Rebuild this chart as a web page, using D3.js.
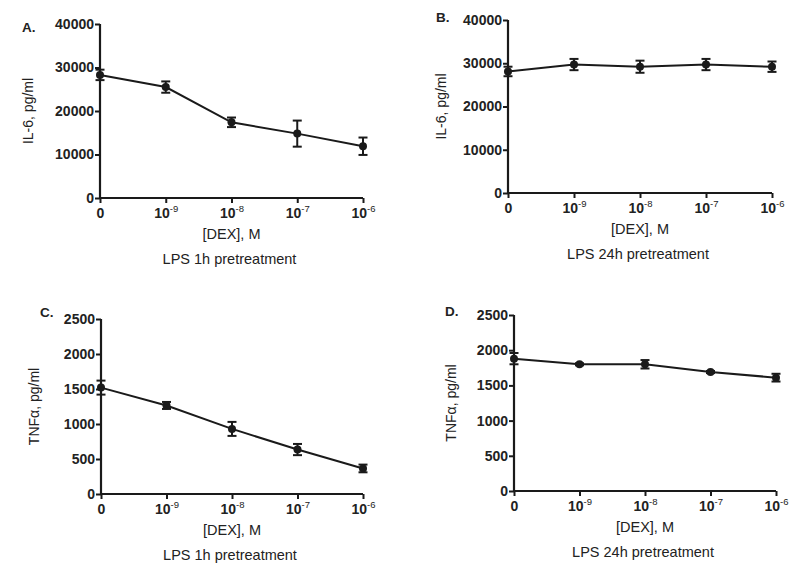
<!DOCTYPE html>
<html><head><meta charset="utf-8">
<script src="https://cdn.jsdelivr.net/npm/d3@7"></script>
<style>body{margin:0;background:#fff}svg{display:block}</style>
</head><body>
<svg id="c" width="800" height="578"></svg>
<script>
const categories = ["0","1e-9","1e-8","1e-7","1e-6"];
const tickBase = ["0","10","10","10","10"];
const tickExp  = ["","-9","-8","-7","-6"];

const il6_1h     = [28300, 25500, 17400, 14800, 11900];
const il6_1h_err = [1200, 1300, 1100, 3000, 2000];
const il6_24h     = [28100, 29700, 29200, 29700, 29200];
const il6_24h_err = [1100, 1300, 1400, 1300, 1200];
const tnf_1h     = [1520, 1265, 930, 635, 365];
const tnf_1h_err = [100, 50, 100, 80, 55];
const tnf_24h     = [1880, 1800, 1800, 1690, 1610];
const tnf_24h_err = [80, 15, 60, 15, 55];

const il6Ticks = [0, 10000, 20000, 30000, 40000];
const tnfTicks = [0, 500, 1000, 1500, 2000, 2500];

const panels = [
  {id:"A.", values:il6_1h, errs:il6_1h_err, ticks:il6Ticks, max:40000, ylab:"IL-6, pg/ml", sub:"LPS 1h pretreatment",
   box:{l:100,r:363,t:24,b:198}, letter:[22,32], ylabX:28},
  {id:"B.", values:il6_24h, errs:il6_24h_err, ticks:il6Ticks, max:40000, ylab:"IL-6, pg/ml", sub:"LPS 24h pretreatment",
   box:{l:508,r:772,t:20,b:193}, letter:[436,22], ylabX:441},
  {id:"C.", values:tnf_1h, errs:tnf_1h_err, ticks:tnfTicks, max:2500, ylab:"TNFα, pg/ml", sub:"LPS 1h pretreatment",
   box:{l:101,r:363,t:319,b:494}, letter:[40,317], ylabX:34},
  {id:"D.", values:tnf_24h, errs:tnf_24h_err, ticks:tnfTicks, max:2500, ylab:"TNFα, pg/ml", sub:"LPS 24h pretreatment",
   box:{l:514,r:776,t:315,b:491}, letter:[445,316], ylabX:451}
];

const svg = d3.select("#c");
const FONT = "'Liberation Sans', Arial, Helvetica, sans-serif";
const INK = "#1a1a1a";

panels.forEach(p => {
  const B = p.box;
  const x = d3.scalePoint().domain(categories).range([B.l, B.r]);
  const y = d3.scaleLinear().domain([0, p.max]).range([B.b, B.t]);
  const g = svg.append("g");

  // y axis
  const ya = g.append("g").attr("transform", `translate(${B.l},0)`)
    .call(d3.axisLeft(y).tickValues(p.ticks).tickSize(5).tickPadding(1).tickFormat(d3.format("d")));
  ya.select(".domain").attr("stroke", INK).attr("stroke-width", 2.2).attr("d", `M0,${B.b}V${B.t}`);
  ya.selectAll(".tick line").attr("stroke", INK).attr("stroke-width", 2);
  ya.selectAll(".tick text").attr("fill", "#222").attr("font-family", FONT).attr("font-weight", "bold").attr("font-size", 14);

  // x axis
  const xa = g.append("g").attr("transform", `translate(0,${B.b})`)
    .call(d3.axisBottom(x).tickSize(5).tickFormat(""));
  xa.select(".domain").attr("stroke", INK).attr("stroke-width", 2.2).attr("d", `M${B.l},0H${B.r}`);
  xa.selectAll(".tick line").attr("stroke", INK).attr("stroke-width", 2);
  xa.selectAll(".tick").each(function(d, i) {
    const t = d3.select(this).append("text")
      .attr("y", 20).attr("text-anchor", "middle").attr("fill", "#222")
      .attr("font-family", FONT).attr("font-weight", "bold").attr("font-size", 14);
    t.append("tspan").text(tickBase[i]);
    if (tickExp[i]) {
      t.append("tspan").attr("dy", -6).attr("font-size", 9.5).attr("font-weight", "normal").text(tickExp[i]);
    }
  });

  // axis titles
  g.append("text").attr("x", (B.l + B.r) / 2).attr("y", B.b + 41)
    .attr("text-anchor", "middle").attr("font-family", FONT).attr("font-size", 14.5).attr("fill", "#222")
    .text("[DEX], M");
  g.append("text").attr("x", (B.l + B.r) / 2 - 2).attr("y", B.b + 66)
    .attr("text-anchor", "middle").attr("font-family", FONT).attr("font-size", 14.5).attr("fill", "#222")
    .text(p.sub);
  g.append("text")
    .attr("transform", `translate(${p.ylabX + 5},${(B.t + B.b) / 2}) rotate(-90)`)
    .attr("text-anchor", "middle").attr("font-family", FONT).attr("font-size", 14).attr("fill", "#222")
    .text(p.ylab);
  g.append("text").attr("x", p.letter[0]).attr("y", p.letter[1])
    .attr("font-family", FONT).attr("font-weight", "bold").attr("font-size", 13.5).attr("fill", "#222")
    .text(p.id);

  // data line
  const data = categories.map((c, i) => ({c, v: p.values[i], e: p.errs[i]}));
  g.append("path").datum(data)
    .attr("fill", "none").attr("stroke", INK).attr("stroke-width", 2)
    .attr("d", d3.line().x(d => x(d.c)).y(d => y(d.v)));

  // error bars
  const eb = g.selectAll(".eb").data(data).enter().append("g").attr("stroke", INK).attr("stroke-width", 2);
  eb.append("line").attr("x1", d => x(d.c)).attr("x2", d => x(d.c))
    .attr("y1", d => y(d.v - d.e)).attr("y2", d => y(d.v + d.e));
  eb.append("line").attr("x1", d => x(d.c) - 4.5).attr("x2", d => x(d.c) + 4.5)
    .attr("y1", d => y(d.v + d.e)).attr("y2", d => y(d.v + d.e));
  eb.append("line").attr("x1", d => x(d.c) - 4.5).attr("x2", d => x(d.c) + 4.5)
    .attr("y1", d => y(d.v - d.e)).attr("y2", d => y(d.v - d.e));

  // markers
  g.selectAll(".pt").data(data).enter().append("circle")
    .attr("cx", d => x(d.c)).attr("cy", d => y(d.v)).attr("r", 4).attr("fill", INK);
});
</script>
</body></html>
